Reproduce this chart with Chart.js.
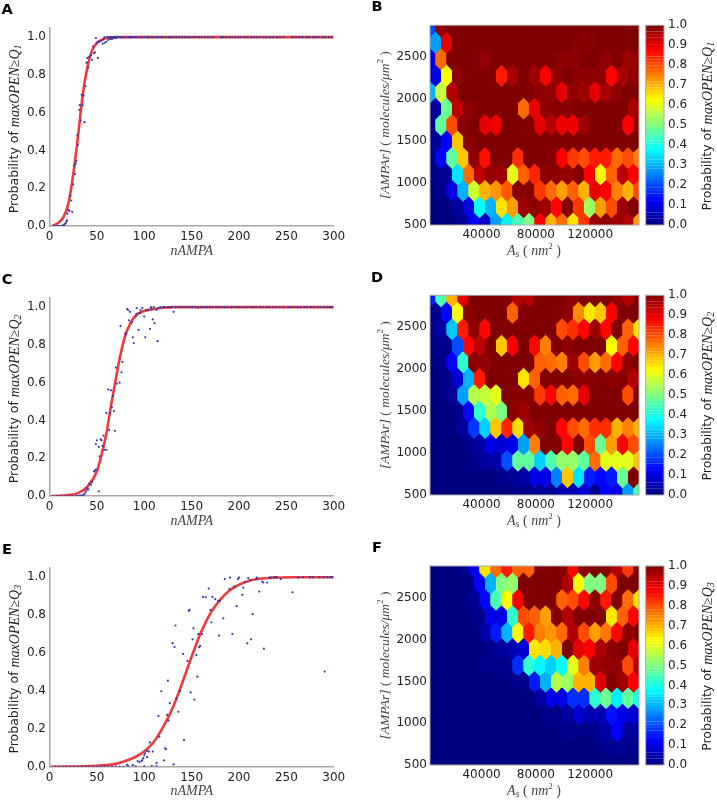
<!DOCTYPE html>
<html>
<head>
<meta charset="utf-8">
<title>maxOPEN probability</title>
<script src="https://cdn.jsdelivr.net/npm/chart.js@4"></script>
<style>
  html, body { margin: 0; padding: 0; background: #fff; }
  #page { position: relative; width: 717px; height: 800px; overflow: hidden; }
  canvas { position: absolute; filter: blur(0.35px); }
</style>
</head>
<body>
<div id="page"></div>
<script>
// nAMPA axis
const nampaTicks = [0, 50, 100, 150, 200, 250, 300];
const probTicks = [0, 0.2, 0.4, 0.6, 0.8, 1.0];
const areaTicks = [40000, 80000, 120000];
const ampaTicks = [500, 1000, 1500, 2000, 2500];
const colorTicks = [0, 0.1, 0.2, 0.3, 0.4, 0.5, 0.6, 0.7, 0.8, 0.9, 1.0];

// Panel A
const nampaA = [4,6,8,10,12,13,14,15,16,17,18,18.5,19,20,21,22,23,24,25,26,27,27.5,28.5,29.5,30,31.5,32,33,34,35,36,37,38,39,40,41,42,44,45,46,47,48,49,50,51,52,54,56,57,58,60,62,64,66,68,70,76];
const probA = [0,0,0,0,0,0,.002,.005,.01,.015,.025,.03,.065,.085,.08,.16,.135,.075,.22,.32,.275,.33,.345,.48,.43,.615,.64,.56,.695,.64,.69,.55,.74,.865,.89,.84,.895,.905,.88,.95,.915,.92,.995,.97,.89,.975,.98,.965,.99,.97,.975,.985,.99,.99,.995,.995,.998];
const plateauA = [58,61,63,65,67,69,71,73,75,78,80,83,85,87,90,92,95,97,100,103,105,108,110,113,115,118,120,123,126,128,131,134,137,140,143,146,149,152,155,158,161,164,167,170,173,181,183,186,190,193,196,199,202,206,209,213,216,219,222,226,229,233,236,240,243,247,256,257,260,264,267,271,274,278,281,284,288,291,295,298];
const curveXA = [3,5,10,15,20,25,30,35,40,45,50,55,60,70,100,300];
const curveYA = [0,.005,.02,.05,.12,.27,.47,.69,.84,.93,.97,.985,.995,1,1,1];

// Panel C
const nampaC = [3,8,12,16,20,24,28,30,32,34,36,37,38,39,40,41,42,44,45,47,48,49,49,50,52,52,53,54,55,56,57,58,60,60,62,63,64,65,66,67,68,69,70,71,74,76,75,77,80,81,82,83,84,85,87,88,89,91,92,92,94,95,96,98,100,101,102,104,106,107,108,109,110,111,113,114,115,131,157];
const probC = [0,0,0,0,0,0,0,0,.002,.004,.006,.01,.02,.03,.04,.035,.065,.06,.075,.13,.135,.14,.275,.295,.26,.025,.21,.3,.295,.265,.32,.245,.245,.44,.565,.35,.44,.56,.47,.53,.45,.345,.68,.595,.6,.655,.9,.71,.86,.86,.99,.985,.93,.975,.92,.84,.81,.95,.995,.965,.88,.97,.985,.995,.95,.84,.985,.985,.885,1,.99,.935,1,.915,.985,.82,.995,.975,.997];
const plateauC = [117,120,122,125,127,129,133,136,139,142,145,148,151,154,160,163,166,169,172,176,179,182,185,188,192,195,198,201,205,208,212,215,218,222,225,229,232,236,239,243,247,252,255,258,262,265,269,272,276,279,283,286,290,293,296,298];
const curveXC = [3,20,30,40,50,55,60,65,70,75,80,85,90,100,110,120,130,300];
const curveYC = [0,.005,.015,.05,.13,.22,.33,.48,.62,.75,.85,.91,.95,.98,.99,.997,1,1];

// Panel E
const nampaE = [2,6,10,14,18,22,26,30,34,38,42,46,50,54,58,62,66,70,74,78,81.7,83,88,91,93,95,97,98,99,100,100,101,103,103,105,106,108,109,113,113,115,116,118,121,122,123,124,125,125.6,127,130,131,132,133,134,136,138,141,142,145.6,147,148,149,151,152,153,155,156,157,158,159,161,162,165,168,170,171,172,175,178,179,180,183.5,185,190,190.5,193,195,197.5,199,200,203.5,204.5,206,208.8,209.8,212,212.6,214.4,218,219,221.4,224.6,225.6,226.3,229.8,232,234,236.8,239,240,244,256.5,262.5,267.7,275,278,285,289.5,290.5,293,296.5,298.6];
const probE = [0,0,0,0,0,0,0,0,0,0,0,0,0,0,0,0,0,0,0,0,.01,.005,.008,.002,.03,.024,.03,.035,.045,.06,.002,.07,.05,.083,.08,.128,.005,.08,.02,.002,.268,.158,.398,.033,.097,.092,.273,.454,.243,.335,.652,.012,.632,.745,.36,.29,.4,.595,.14,.558,.822,.827,.392,.672,.73,.354,.59,.475,.7,.63,.637,.7,.896,.894,.94,.827,.762,.896,.884,.875,.692,.875,.783,.99,.937,.998,.7,.95,.847,.99,.998,.907,.945,.973,.651,.995,.985,.672,.805,.99,.998,.924,.977,.972,.623,.972,.998,.998,1,1,1,.99,.92,.998,1,1,1,1,1,.502,1,1,1];
const curveXE = [3,50,70,80,90,100,110,120,130,140,150,160,170,180,190,200,210,220,240,260,300];
const curveYE = [0,.005,.015,.03,.05,.08,.13,.21,.31,.44,.58,.71,.81,.88,.93,.96,.98,.99,.998,1,1];

// Hexbin cells, top row first; rows alternate 20 and 19 cells
const hexB = [
  [.2,.985,1,1,1,1,1,1,1,1,1,1,1,1,1,1,1,1,1,1],
  [.28,.9,1,1,1,1,1,1,1,1,1,1,1,.99,.99,1,1,1,1],
  [.1,.77,1,1,1,.98,1,1,1,1,1,1,.985,.985,1,1,.985,1,.97,.98],
  [.1,.62,.985,1,1,1,.85,.96,1,.97,.88,.985,1,.985,.985,.985,.87,.96,.985],
  [.3,.57,.95,1,1,1,1,1,1,1,.985,.98,.9,.985,.97,.9,.96,.985,1,1],
  [.03,.48,.94,.985,1,1,1,1,.77,.9,.985,.99,.99,1,1,1,1,1,.96],
  [.02,.47,.8,.99,1,.9,.89,1,1,1,.9,.95,.89,.89,.97,1,1,1,.88,.985],
  [.03,.12,.68,.99,1,1,1,1,1,1,1,1,1,1,1,1,1,1,1],
  [.01,.13,.47,.68,.985,.86,1,1,.83,1,1,.995,.88,.82,.8,.85,.85,.77,.8,.75],
  [.01,.02,.35,.77,.94,.98,.97,.6,.78,.84,.99,.985,.98,1,.88,.62,.78,.94,.88],
  [0,.01,.1,.3,.58,.7,.73,.79,.995,.995,.82,.77,.72,.78,.7,.9,.88,.75,.7,.8],
  [0,0,.03,.1,.38,.3,.65,.72,.97,.985,.97,.87,.995,.82,.53,.72,.8,.97,1],
  [0,0,0,.02,.12,.07,.28,.36,.45,.5,.88,.7,.77,.65,.82,.97,.985,.97,.95,.72]
];
const hexD = [
  [.15,.45,.7,.9,1,1,1,1,.95,.95,1,1,1,.985,1,1,1,.985,.95,1],
  [.02,.13,.62,.99,1,1,1,.78,1,1,1,1,.985,.74,.65,.68,.88,1,1],
  [.01,.03,.32,.85,.985,.87,1,.995,1,1,1,1,.8,.83,.88,.97,.87,1,.78,.65],
  [.01,.01,.2,.87,.94,1,.68,.88,1,.87,.75,1,.985,1,1,1,.62,.78,.87],
  [0,.01,.12,.42,.985,.98,1,1,1,1,.78,.77,.75,.97,.8,.72,.77,.87,.985,1],
  [0,.01,.08,.3,.85,1,1,1,.65,.78,.995,1,1,.985,.99,.995,.985,.99,.95],
  [0,0,.02,.28,.55,.57,.6,1,.99,.99,.82,.87,.78,.77,.9,1,1,1,.8,1],
  [0,0,.01,.13,.42,.55,.5,.99,.97,1,1,1,1,1,1,1,1,1,1],
  [0,0,0,.03,.18,.33,.68,.84,.66,.97,.985,1,.87,.8,.77,.83,.83,.7,.75,.7],
  [0,0,0,.01,.04,.1,.08,.1,.28,.75,1,.995,.87,1,.8,.48,.72,.88,.8],
  [0,0,0,0,.01,.03,.04,.2,.47,.47,.33,.45,.52,.52,.47,.77,.6,.6,.6,.68],
  [0,0,0,0,0,0,.01,.02,.04,.1,.1,.25,.68,.35,.15,.13,.15,.48,1],
  [0,0,0,0,0,0,0,0,.01,.01,.03,.02,.05,.05,.08,.02,.12,.1,.28,.45]
];
const hexF = [
  [0,0,0,.01,.1,.65,.77,.85,.78,.78,1,1,1,.87,.99,1,.99,.95,.82,1],
  [0,0,0,0,.12,.3,.5,.52,1,1,1,1,.95,.62,.5,.5,.8,1,1],
  [0,0,0,0,.02,.13,.45,.62,.88,1,1,1,.78,.8,.87,.985,.85,1,.77,.65],
  [0,0,0,0,.01,.1,.1,.42,.8,.78,.72,.995,.95,1,1,1,.65,.78,.87],
  [0,0,0,0,0,.04,.15,.3,.63,.85,.75,.73,.77,.95,.8,.72,.76,.87,.985,1],
  [0,0,0,0,0,.01,.03,.05,.08,.65,.66,.7,1,.9,.88,.96,.985,1,.9],
  [0,0,0,0,0,.01,.01,.01,.17,.42,.37,.33,.38,.6,.75,.97,.98,.985,.8,.94],
  [0,0,0,0,0,0,0,.01,.01,.15,.3,.55,.53,.7,.7,.9,1,.97,.88],
  [0,0,0,0,0,0,0,0,0,0,.03,.1,.1,.17,.17,.42,.48,.36,.47,.4],
  [0,0,0,0,0,0,0,0,0,0,.01,.01,.03,.08,.05,.05,.14,.1,.08],
  [0,0,0,0,0,0,0,0,0,0,0,0,.01,.01,.01,.01,.04,.12,.03,.03],
  [0,0,0,0,0,0,0,0,0,0,0,0,0,0,0,.01,.02,.02,.01],
  [0,0,0,0,0,0,0,0,0,0,0,0,0,0,0,0,0,0,0,0]
];

const AREA_MIN = 2000, AREA_MAX = 156000, AREA_STEP = 8105;
const AMPA_MIN = 500, AMPA_MAX = 2880, AMPA_BASE = 512, AMPA_STEP = 196;

const SPINE = "#a8a8a8";
const TEXT = "#222";
const SANS = '"DejaVu Sans"';
const MATH = 'italic 14px "Liberation Serif"';

Chart.defaults.font.family = SANS;
Chart.defaults.font.size = 12;
Chart.defaults.color = TEXT;

function jet(v) {
    const c = k => Math.round(255 * Math.max(0, Math.min(1, 1.5 - Math.abs(4 * v - k))));
    return `rgb(${c(3)},${c(2)},${c(1)})`;
}

function probabilityRuns(q) {
    return [
        { t: "Probability of ", font: `12.5px ${SANS}` },
        { t: "maxOPEN≥Q", font: MATH },
        { t: q, font: 'italic 10px "Liberation Serif"', dy: 3 }
    ];
}

// Texto solto: títulos com fonte mista e a letra do painel.
const richTextPlugin = {
    id: "richText",
    afterDraw(chart, args, opts) {
        const ctx = chart.ctx;
        (opts.items || []).forEach(item => {
            ctx.save();
            ctx.translate(item.x, item.y);
            if (item.rot) ctx.rotate(item.rot);
            ctx.textBaseline = "middle";
            ctx.textAlign = "left";
            ctx.fillStyle = item.color || "#333";
            let width = 0;
            item.runs.forEach(r => { ctx.font = r.font; width += ctx.measureText(r.t).width; });
            let x = -width / 2;
            item.runs.forEach(r => {
                ctx.font = r.font;
                ctx.fillText(r.t, x, r.dy || 0);
                x += ctx.measureText(r.t).width;
            });
            ctx.restore();
        });
    }
};

// Hexágonos centrados nos pontos do dataset, tamanho vindo das escalas.
const hexPlugin = {
    id: "hexCells",
    beforeDatasetsDraw(chart, args, opts) {
        if (!opts.on) return;
        const { ctx, chartArea, scales } = chart;
        const meta = chart.getDatasetMeta(0);
        const values = chart.data.datasets[0].data;
        const halfW = (scales.x.getPixelForValue(AREA_MIN + AREA_STEP) - scales.x.getPixelForValue(AREA_MIN)) / 2;
        const rowH = scales.y.getPixelForValue(AMPA_MIN) - scales.y.getPixelForValue(AMPA_MIN + AMPA_STEP);
        const apex = rowH * 2 / 3, side = rowH / 3;
        const trace = pt => {
            ctx.beginPath();
            ctx.moveTo(pt.x, pt.y - apex);
            ctx.lineTo(pt.x + halfW, pt.y - side);
            ctx.lineTo(pt.x + halfW, pt.y + side);
            ctx.lineTo(pt.x, pt.y + apex);
            ctx.lineTo(pt.x - halfW, pt.y + side);
            ctx.lineTo(pt.x - halfW, pt.y - side);
            ctx.closePath();
        };
        ctx.save();
        ctx.beginPath();
        ctx.rect(chartArea.left, chartArea.top, chartArea.width, chartArea.height);
        ctx.clip();
        // Primeira passada larga cobre o branco; a segunda acerta as bordas sem emendas.
        ctx.lineWidth = 2;
        meta.data.forEach((pt, i) => {
            const color = jet(values[i].v);
            ctx.fillStyle = color;
            ctx.strokeStyle = color;
            trace(pt);
            ctx.fill();
            ctx.stroke();
        });
        meta.data.forEach((pt, i) => {
            ctx.fillStyle = jet(values[i].v);
            trace(pt);
            ctx.fill();
        });
        ctx.restore();
    }
};

const framePlugin = {
    id: "frame",
    afterDatasetsDraw(chart, args, opts) {
        if (!opts.on) return;
        const { ctx, chartArea } = chart;
        ctx.save();
        ctx.strokeStyle = SPINE;
        ctx.lineWidth = 1;
        ctx.strokeRect(chartArea.left, chartArea.top, chartArea.width, chartArea.height);
        ctx.restore();
    }
};

Chart.register(richTextPlugin, hexPlugin, framePlugin);

function makeCanvas(left, top, w, h) {
    const canvas = document.createElement("canvas");
    canvas.width = w;
    canvas.height = h;
    canvas.style.left = left + "px";
    canvas.style.top = top + "px";
    canvas.style.width = w + "px";
    canvas.style.height = h + "px";
    document.getElementById("page").appendChild(canvas);
    return canvas;
}

function fixedTicks(list) {
    return scale => { scale.ticks = list.map(value => ({ value })); };
}

// Painéis da esquerda: pontos + curva ajustada.
function drawCurvePanel(cfg) {
    const W = 357, H = 265;
    const points = cfg.nampa.map((x, i) => ({ x, y: cfg.prob[i] }))
        .concat(cfg.plateau.map(x => ({ x, y: 1 })));
    const curve = cfg.curveX.map((x, i) => ({ x, y: cfg.curveY[i] }));
    new Chart(makeCanvas(0, cfg.top, W, H), {
        type: "scatter",
        data: {
            datasets: [
                { data: points, backgroundColor: "#3a3aa6", borderWidth: 0, pointRadius: 1.1, order: 1 },
                { data: curve, type: "line", borderColor: "#ee3a3e", borderWidth: 2.6, pointRadius: 0, cubicInterpolationMode: "monotone", order: 2 }
            ]
        },
        options: {
            responsive: false,
            animation: false,
            layout: { padding: { top: cfg.areaTop, right: W - 333.7, left: 0, bottom: 0 } },
            plugins: {
                legend: { display: false },
                tooltip: { enabled: false },
                richText: {
                    items: [
                        { x: 7, y: cfg.letterY, runs: [{ t: cfg.letter, font: `bold 14.5px ${SANS}` }], color: "#000" },
                        { x: 191.7, y: cfg.areaBottom + 25, runs: [{ t: "nAMPA", font: MATH }], color: "#444" },
                        { x: 15, y: (cfg.areaBottom + cfg.areaTop) / 2 + 2, rot: -Math.PI / 2, runs: probabilityRuns(cfg.q), color: "#222" }
                    ]
                }
            },
            scales: {
                x: {
                    type: "linear", min: 0, max: 300,
                    afterBuildTicks: fixedTicks(nampaTicks),
                    afterFit: s => { s.height = H - cfg.areaBottom; },
                    grid: { display: false, drawTicks: false },
                    border: { color: SPINE, width: 1.5 },
                    ticks: { padding: 4, maxRotation: 0, autoSkip: false, font: { size: 12 }, color: TEXT }
                },
                y: {
                    type: "linear", min: 0, max: 1.05,
                    afterBuildTicks: fixedTicks(probTicks),
                    afterFit: s => { s.width = 49.5; },
                    grid: { display: false, drawTicks: false },
                    border: { color: SPINE, width: 1.5 },
                    ticks: { padding: 3.5, autoSkip: false, font: { size: 12 }, color: TEXT, callback: v => v.toFixed(1) }
                }
            }
        }
    });
}

// Painéis da direita: hexbin.
function drawHexPanel(cfg) {
    const W = 282, H = 265, LEFT = 360;
    const cells = [];
    cfg.rows.forEach((row, i) => {
        const r = cfg.rows.length - 1 - i;
        row.forEach((v, k) => {
            const col = r % 2 === 0 ? k : k + 0.5;
            cells.push({ x: AREA_MIN + col * AREA_STEP, y: AMPA_BASE + r * AMPA_STEP, v });
        });
    });
    new Chart(makeCanvas(LEFT, cfg.top, W, H), {
        type: "scatter",
        data: { datasets: [{ data: cells, pointRadius: 0, borderWidth: 0 }] },
        options: {
            responsive: false,
            animation: false,
            layout: { padding: { top: cfg.areaTop, right: W - (639 - LEFT), left: 0, bottom: 0 } },
            plugins: {
                legend: { display: false },
                tooltip: { enabled: false },
                hexCells: { on: true },
                frame: { on: true },
                richText: {
                    items: [
                        { x: 17, y: cfg.letterY, runs: [{ t: cfg.letter, font: `bold 14.5px ${SANS}` }], color: "#000" },
                        { x: 174, y: cfg.areaBottom + 26, color: "#444", runs: [
                            { t: "A", font: MATH },
                            { t: "s", font: 'italic 10px "Liberation Serif"', dy: 3 },
                            { t: " ( ", font: '14px "Liberation Serif"' },
                            { t: "nm", font: MATH },
                            { t: "2", font: '9px "Liberation Serif"', dy: -4 },
                            { t: " )", font: '14px "Liberation Serif"' }
                        ] },
                        { x: 25, y: (cfg.areaBottom + cfg.areaTop) / 2, rot: -Math.PI / 2, color: "#444", runs: [
                            { t: "[AMPAr]", font: 'italic 13.5px "Liberation Serif"' },
                            { t: " ( ", font: '13.5px "Liberation Serif"' },
                            { t: "molecules/μm", font: 'italic 13.5px "Liberation Serif"' },
                            { t: "2", font: '9px "Liberation Serif"', dy: -4 },
                            { t: " )", font: '13.5px "Liberation Serif"' }
                        ] }
                    ]
                }
            },
            scales: {
                x: {
                    type: "linear", min: AREA_MIN, max: AREA_MAX,
                    afterBuildTicks: fixedTicks(areaTicks),
                    afterFit: s => { s.height = H - cfg.areaBottom; },
                    grid: { display: false, drawTicks: false },
                    border: { display: false },
                    ticks: { padding: 3, maxRotation: 0, autoSkip: false, font: { size: 12 }, color: TEXT, callback: v => String(v) }
                },
                y: {
                    type: "linear", min: AMPA_MIN, max: AMPA_MAX,
                    afterBuildTicks: fixedTicks(ampaTicks),
                    afterFit: s => { s.width = 70; },
                    grid: { display: false, drawTicks: false },
                    border: { display: false },
                    ticks: { padding: 3, autoSkip: false, font: { size: 12 }, color: TEXT, callback: v => String(v) }
                }
            }
        }
    });
    drawColorbar(cfg);
}

// Barra de cores: barras empilhadas com 64 níveis.
function drawColorbar(cfg) {
    const W = 77, H = 265, LEFT = 640;
    const levels = 64;
    const datasets = [];
    for (let i = 0; i < levels; i++) {
        const color = jet((i + 0.5) / levels);
        datasets.push({ data: [1 / levels], backgroundColor: color, borderColor: color, borderWidth: 0.5, barPercentage: 1, categoryPercentage: 1 });
    }
    new Chart(makeCanvas(LEFT, cfg.top, W, H), {
        type: "bar",
        data: { labels: [""], datasets },
        options: {
            responsive: false,
            animation: false,
            layout: { padding: { top: cfg.areaTop, left: 5.7, right: 0, bottom: H - cfg.areaBottom } },
            plugins: {
                legend: { display: false },
                tooltip: { enabled: false },
                frame: { on: true },
                richText: {
                    items: [
                        { x: 68, y: (cfg.areaBottom + cfg.areaTop) / 2 + 1, rot: -Math.PI / 2, runs: probabilityRuns(cfg.q), color: "#222" }
                    ]
                }
            },
            scales: {
                x: { stacked: true, display: false },
                y: {
                    stacked: true, min: 0, max: 1, position: "right",
                    afterBuildTicks: fixedTicks(colorTicks),
                    afterFit: s => { s.width = W - 24; },
                    grid: { display: false, drawTicks: false },
                    border: { display: false },
                    ticks: { padding: 4, autoSkip: false, font: { size: 12 }, color: TEXT, callback: v => v.toFixed(1) }
                }
            }
        }
    });
}

drawCurvePanel({ top: 0, letter: "A", q: "1", letterY: 10, areaTop: 27.7, areaBottom: 226, nampa: nampaA, prob: probA, plateau: plateauA, curveX: curveXA, curveY: curveYA });
drawCurvePanel({ top: 270, letter: "C", q: "2", letterY: 10, areaTop: 27.7, areaBottom: 226, nampa: nampaC, prob: probC, plateau: plateauC, curveX: curveXC, curveY: curveYC });
drawCurvePanel({ top: 535, letter: "E", q: "3", letterY: 15, areaTop: 32.7, areaBottom: 231.7, nampa: nampaE, prob: probE, plateau: [], curveX: curveXE, curveY: curveYE });

drawHexPanel({ top: 0, letter: "B", q: "1", letterY: 7.5, areaTop: 25.3, areaBottom: 225, rows: hexB });
drawHexPanel({ top: 270, letter: "D", q: "2", letterY: 8, areaTop: 25.3, areaBottom: 225, rows: hexD });
drawHexPanel({ top: 535, letter: "F", q: "3", letterY: 13, areaTop: 31, areaBottom: 230, rows: hexF });
</script>
</body>
</html>
